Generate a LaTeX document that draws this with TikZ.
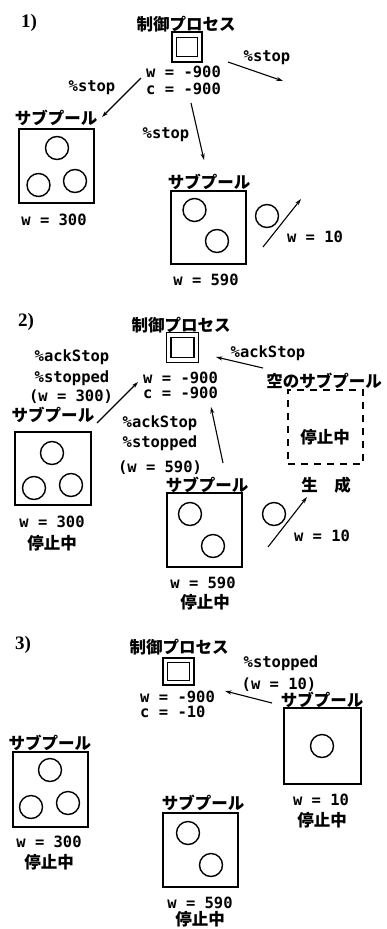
\documentclass[tikz,border=0pt]{standalone}
\usepackage{fontspec}
\newfontfamily\monof{DejaVu Sans Mono}
\newfontfamily\jpf{Noto Sans CJK JP}
\newfontfamily\numf{Liberation Serif}
\usetikzlibrary{arrows.meta}
\tikzset{
  mono/.style={font=\monof\bfseries\fontsize{15.5}{17}\selectfont, inner sep=0pt},
  jp/.style={font=\jpf\bfseries\fontsize{16.5}{18}\selectfont, inner sep=0pt},
  num/.style={font=\numf\bfseries\fontsize{19}{21}\selectfont, inner sep=0pt},
  pool/.style={draw, line width=1.9pt, inner sep=0pt},
  ball/.style={draw, circle, line width=1.4pt, minimum size=23pt, inner sep=0pt},
  ctrlbox/.style={draw, line width=1.5pt, inner sep=0pt},
  arr/.style={-{Stealth[length=6.5pt,width=4pt]}, line width=1.1pt},
  dashbox/.style={draw, dashed, dash pattern=on 7pt off 6pt, line width=1.5pt, inner sep=0pt}
}
\begin{document}
\begin{tikzpicture}[x=1pt,y=-1pt]
\useasboundingbox (0,0) rectangle (386,929);
% ================= Panel 1 =================
\node[num] (n1) at (29,23) {1)};
\node[jp] (ct1) at (186,24) {制御プロセス};
\node[ctrlbox, minimum width=30pt, minimum height=30pt] (co1) at (187,47) {};
\node[ctrlbox, minimum width=21pt, minimum height=19pt] (ci1) at (187,47) {};
\node[mono, anchor=west] (w1) at (146,72) {w = -900};
\node[mono, anchor=west] (c1) at (146,89) {c = -900};
\node[mono] (s1r) at (267,58) {\%stop};
\node[mono] (s1l) at (92,88) {\%stop};
\node[mono] (s1m) at (166,135) {\%stop};
\coordinate (a1s) at (228,62); \coordinate (a1e) at (283,81);
\coordinate (b1s) at (141,78); \coordinate (b1e) at (102,117);
\coordinate (d1s) at (191,103); \coordinate (d1e) at (204,160);
\draw[arr] (a1s) -- (a1e);
\draw[arr] (b1s) -- (b1e);
\draw[arr] (d1s) -- (d1e);
\node[jp] (sp1a) at (56,118) {サブプール};
\node[pool, minimum width=75pt, minimum height=74pt] (p1a) at (56.5,166) {};
\node[ball] (b1a1) at (57,148) {};
\node[ball] (b1a2) at (38.5,185) {};
\node[ball] (b1a3) at (75,181) {};
\node[mono] (w1a) at (54,220) {w = 300};
\node[jp] (sp1b) at (209,182) {サブプール};
\node[pool, minimum width=75pt, minimum height=73pt] (p1b) at (208.5,227.5) {};
\node[ball] (b1b1) at (194.5,210) {};
\node[ball] (b1b2) at (217,241) {};
\node[mono] (w1b) at (206,280) {w = 590};
\node[ball] (b1c) at (267,216) {};
\coordinate (e1s) at (263,247); \coordinate (e1e) at (301,199);
\draw[arr] (e1s) -- (e1e);
\node[mono] (w1c) at (315,237) {w = 10};
% ================= Panel 2 =================
\node[num] (n2) at (26,322) {2)};
\node[jp] (ct2) at (181,325) {制御プロセス};
\node[ctrlbox, minimum width=32pt, minimum height=30pt] (co2) at (182.5,347.5) {};
\node[ctrlbox, minimum width=23pt, minimum height=20pt] (ci2) at (182.5,347.5) {};
\node[mono, anchor=west] (w2) at (143,378) {w = -900};
\node[mono, anchor=west] (c2) at (143,393) {c = -900};
\node[mono] (ak2r) at (268,353) {\%ackStop};
\coordinate (a2s) at (263,368); \coordinate (a2e) at (216,357);
\draw[arr] (a2s) -- (a2e);
\node[jp] (emp2) at (324,381) {空のサブプール};
\node[mono] (ak2l) at (72,357) {\%ackStop};
\node[mono] (st2l) at (72,378) {\%stopped};
\node[mono] (wl2) at (71,397) {(w = 300)};
\coordinate (b2s) at (97,423); \coordinate (b2e) at (138,382);
\draw[arr] (b2s) -- (b2e);
\node[jp] (sp2a) at (53,415) {サブプール};
\node[pool, minimum width=76pt, minimum height=73pt] (p2a) at (53,468.5) {};
\node[ball] (b2a1) at (52,453) {};
\node[ball] (b2a2) at (34,488) {};
\node[ball] (b2a3) at (71,485) {};
\node[mono] (w2a) at (52,522) {w = 300};
\node[jp] (h2a) at (52,543) {停止中};
\node[mono] (ak2m) at (160,423) {\%ackStop};
\node[mono] (st2m) at (160,443) {\%stopped};
\node[mono] (wm2) at (160,468) {(w = 590)};
\coordinate (d2s) at (223,463); \coordinate (d2e) at (211,407);
\draw[arr] (d2s) -- (d2e);
\node[jp] (sp2b) at (207,485) {サブプール};
\node[pool, minimum width=75pt, minimum height=74pt] (p2b) at (204.5,530) {};
\node[ball] (b2b1) at (190,514) {};
\node[ball] (b2b2) at (213,546) {};
\node[mono] (w2b) at (203,583) {w = 590};
\node[jp] (h2b) at (205,602) {停止中};
\node[dashbox, minimum width=75pt, minimum height=74pt] (dp2) at (325.5,427) {};
\node[jp] (h2c) at (325,437) {停止中};
\node[jp] (gen2) at (326,485) {生　成};
\node[ball] (b2c) at (274,514) {};
\coordinate (e2s) at (268,547); \coordinate (e2e) at (307,497);
\draw[arr] (e2s) -- (e2e);
\node[mono] (w2c) at (322,536) {w = 10};
% ================= Panel 3 =================
\node[num] (n3) at (23,645) {3)};
\node[jp] (ct3) at (179,647) {制御プロセス};
\node[ctrlbox, minimum width=31pt, minimum height=27pt] (co3) at (178.5,671.5) {};
\node[ctrlbox, minimum width=22pt, minimum height=18pt] (ci3) at (178.5,671.5) {};
\node[mono, anchor=west] (w3) at (140,697) {w = -900};
\node[mono, anchor=west] (c3) at (140,712) {c = -10};
\node[mono] (st3) at (281,663) {\%stopped};
\node[mono] (wr3) at (279,685) {(w = 10)};
\coordinate (a3s) at (272,703); \coordinate (a3e) at (225,691);
\draw[arr] (a3s) -- (a3e);
\node[jp] (sp3c) at (322,700) {サブプール};
\node[pool, minimum width=77pt, minimum height=76pt] (p3c) at (322.5,746) {};
\node[ball] (b3c) at (322,746) {};
\node[mono] (w3c) at (321,800) {w = 10};
\node[jp] (h3c) at (322,820) {停止中};
\node[jp] (sp3a) at (50,743) {サブプール};
\node[pool, minimum width=75pt, minimum height=75pt] (p3a) at (50.5,789.5) {};
\node[ball] (b3a1) at (50,770) {};
\node[ball] (b3a2) at (31,807) {};
\node[ball] (b3a3) at (68,803) {};
\node[mono] (w3a) at (49,842) {w = 300};
\node[jp] (h3a) at (49,862) {停止中};
\node[jp] (sp3b) at (203,803) {サブプール};
\node[pool, minimum width=75pt, minimum height=74pt] (p3b) at (200.5,850) {};
\node[ball] (b3b1) at (188,833) {};
\node[ball] (b3b2) at (211,865) {};
\node[mono] (w3b) at (200,903) {w = 590};
\node[jp] (h3b) at (200,919) {停止中};
\end{tikzpicture}
\end{document}
